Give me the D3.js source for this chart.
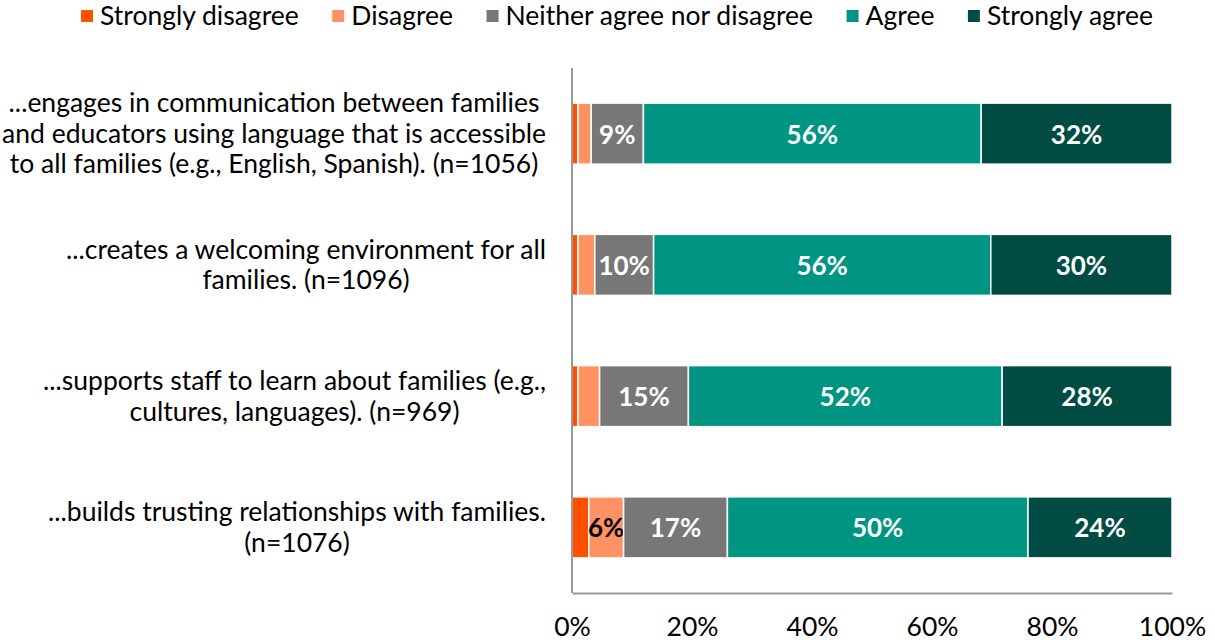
<!DOCTYPE html>
<html><head><meta charset="utf-8">
<script src="https://cdn.jsdelivr.net/npm/d3@7"></script>
<style>body{margin:0;background:#fff}svg{display:block}text{font-family:Lato,"Open Sans",sans-serif}</style>
</head><body><svg id="c" width="1215" height="644"></svg>
<script>
const categories = [
  ["...engages in communication between families","and educators using language that is accessible","to all families (e.g., English, Spanish). (n=1056)"],
  ["...creates a welcoming environment for all","families. (n=1096)"],
  ["...supports staff to learn about families (e.g.,","cultures, languages). (n=969)"],
  ["...builds trusting relationships with families.","(n=1076)"]
];
const seriesNames = ["Strongly disagree","Disagree","Neither agree nor disagree","Agree","Strongly agree"];
const stronglyDisagree = [1.0, 1.0, 1.0, 2.8];
const disagree = [2.2, 2.8, 3.6, 5.8];
const neither = [8.7, 9.8, 14.8, 17.3];
const agree = [56.3, 56.2, 52.3, 50.1];
const stronglyAgree = [31.8, 30.2, 28.3, 24.0];
const xTicks = [0, 20, 40, 60, 80, 100];
const colors = ["#fe5000","#ff9263","#777777","#009582","#004c42"];
const labelColors = ["#fff","#000","#fff","#fff","#fff"];

const series = [stronglyDisagree, disagree, neither, agree, stronglyAgree];
const svg = d3.select("#c");
const m = {left:572, right:1172, top:68, bottom:593};
const x = d3.scaleLinear().domain([0,100]).range([m.left, m.right]);
const y = d3.scaleBand().domain(d3.range(categories.length)).range([m.top, m.bottom]).paddingInner(0.535).paddingOuter(0.2675);
const FS = 26.5;

// bars
categories.forEach((c, i) => {
  let acc = 0;
  series.forEach((s, k) => {
    const v = s[i];
    const x0 = x(acc), x1 = x(acc + v);
    svg.append("rect").attr("x", x0).attr("y", y(i)).attr("width", x1 - x0).attr("height", y.bandwidth())
      .attr("fill", colors[k]).attr("stroke", "#fff").attr("stroke-width", 1.5);
    if (v >= 5) {
      svg.append("text").attr("x", (x0 + x1) / 2).attr("y", y(i) + y.bandwidth() / 2)
        .attr("text-anchor", "middle").attr("dominant-baseline", "central")
        .attr("font-size", 26).attr("font-weight", "bold").attr("fill", labelColors[k])
        .text(Math.round(v) + "%");
    }
    acc += v;
  });
});

// axes
svg.append("line").attr("x1", m.left).attr("x2", m.left).attr("y1", m.top).attr("y2", m.bottom).attr("stroke", "#999").attr("stroke-width", 2);
const xAxis = svg.append("g").attr("transform", `translate(0,${m.bottom})`)
  .call(d3.axisBottom(x).tickValues(xTicks).tickSize(0).tickPadding(24).tickFormat(d => d + "%"));
xAxis.select(".domain").attr("stroke", "#999").attr("stroke-width", 2);
xAxis.selectAll("text").attr("font-size", FS).attr("fill", "#000").attr("font-family", "Lato");

// category labels
categories.forEach((lines, i) => {
  const cy = y(i) + y.bandwidth() / 2;
  const lh = 30.5;
  const t = svg.append("text").attr("font-size", FS).attr("fill", "#000").attr("text-anchor", "middle");
  lines.forEach((l, j) => {
    t.append("tspan").attr("x", 0).attr("y", cy + (j - (lines.length - 1) / 2) * lh).attr("dy", "0.35em").text(l);
  });
  const w = t.node().getBBox().width;
  t.attr("transform", `translate(${546 - w / 2},0)`);
});

// legend
const legend = svg.append("g");
let lx = 81;
seriesNames.forEach((n, k) => {
  legend.append("rect").attr("x", lx).attr("y", 10).attr("width", 12).attr("height", 12).attr("fill", colors[k]);
  const t = legend.append("text").attr("x", lx + 19).attr("y", 16).attr("dy", "0.35em").attr("font-size", FS).attr("fill", "#000").text(n);
  lx += 19 + t.node().getComputedTextLength() + 33.5;
});
</script></body></html>
